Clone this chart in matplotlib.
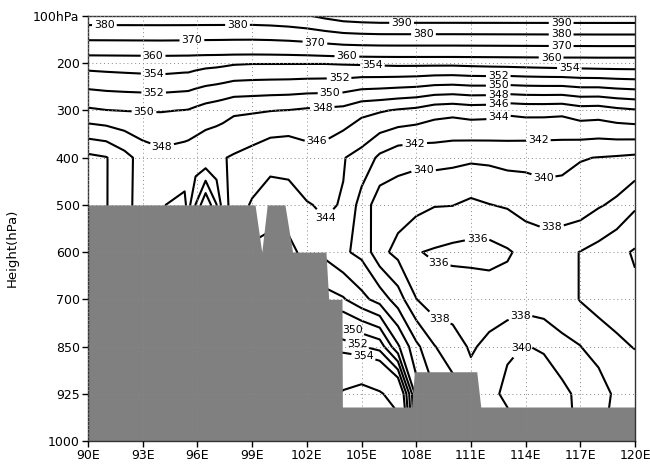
import numpy as np
import matplotlib
matplotlib.use("Agg")
import matplotlib.pyplot as plt

# ---------------- data ----------------
lons = [90, 91, 92, 93, 94, 95.3, 95.5, 95.9, 96.45, 97.05, 97.4, 98, 99, 100, 101, 102, 103,
        104, 105, 106, 107, 108, 109, 110, 111, 112, 113, 114, 115, 116, 117, 118, 119, 120]
levels_hpa = [1000, 925, 850, 700, 600, 500, 400, 300, 200, 100]
level_labels = ['1000', '925', '850', '700', '600', '500', '400', '300', '200', '100hPa']

theta_1000 = [343.0, 343.9, 345.4, 346.8, 347.9, 348.4, 347.27, 350.05, 353.9, 350.05, 347.0, 345.0,
              341.5, 341.0, 341.1, 343.0, 361, 363, 364, 365, 363, 346, 342, 341, 339,
              339.5, 338, 341.9, 341.9, 341, 339.5, 338.5, 337, 337.5]
theta_925 = [343.0, 343.9, 345.4, 346.8, 347.9, 348.4, 347.27, 350.05, 353.9, 350.05, 347.0, 345.0,
             341.5, 341.0, 341.1, 343.0, 358, 360.6, 362, 360.5, 358, 345, 342.2, 341,
             338.7, 339.0, 340.8, 341.5, 341.6, 340.7, 339.3, 339.5, 337.3, 337.5]
theta_850 = [343.0, 343.9, 345.4, 346.8, 347.9, 348.4, 347.27, 350.05, 353.9, 350.05, 347.0, 345.0,
             341.5, 341.0, 341.1, 343.0, 353.5, 353.0, 352.1, 351.2, 346.3, 342.5, 340.1,
             338.7, 337.8, 338.4, 339.5, 340.1, 339.7, 338.4, 338.05, 336.8, 336.4, 335.9]
theta_700 = [343.0, 343.9, 345.4, 346.8, 347.9, 348.4, 347.27, 350.05, 353.9, 350.05, 347.0, 345.0,
             341.5, 341.0, 341.1, 343.0, 346.8, 346.2, 344.6, 343.2, 341.0, 338.05, 336.8,
             337.2, 337.2, 337.1, 336.8, 337.0, 336.8, 337.0, 335.9, 335.5, 335.0, 334.4]
theta_600 = [343.0, 343.9, 345.4, 346.8, 347.9, 348.4, 347.27, 350.05, 353.9, 350.05, 347.0, 345.0,
             341.5, 341.0, 341.1, 343.0, 343.5, 342.3, 341.5, 338.6, 337.4, 336.1, 335.8,
             335.5, 335.4, 335.3, 335.8, 336.5, 336.6, 336.5, 335.95, 335.35, 334.5, 333.8]
theta_500 = [343.0, 343.9, 345.4, 346.8, 347.9, 348.4, 347.27, 350.05, 353.9, 350.05, 347.0, 345.0,
             343.8, 343.25, 343.6, 343.9, 344.2, 343.9, 341.2, 338.9, 338.9, 338.6, 338.1,
             338.05, 337.6, 337.95, 338.2, 338.8, 339.35, 339.2, 339.0, 338.2, 337.6, 336.3]
theta_400 = [343.5, 343.9, 345.3, 346.8, 347.4, 347.0, 346.9, 346.65, 346.3, 346.2, 346.1, 345.8,
             345.25, 344.5, 344.35, 345.1, 345.1, 344.1, 343.3, 341.6, 340.7, 340.5, 340.7,
             340.53, 340.34, 340.41, 340.67, 340.54, 340.5, 340.48, 340.1, 339.95, 339.8, 339.6]
theta_300 = [349.7, 349.95, 350.05, 350.1, 350.1, 349.95, 349.9, 349.6, 349.2, 348.9, 348.7, 348.3,
             348.2, 348.05, 347.95, 347.7, 347.6, 347.4, 346.5, 346.2, 345.8, 345.5, 344.8,
             344.6, 344.9, 344.8, 344.4, 344.6, 344.6, 344.5, 345.1, 345.0, 345.5, 345.8]
theta_200 = [354.8, 354.9, 355.0, 355.1, 355.2, 355.0, 355.0, 354.8, 354.6, 354.5, 354.4, 354.2,
             354.1, 354.1, 354.1, 354.1, 354.1, 354.2, 354.3, 354.4, 354.5, 354.5, 354.5,
             354.5, 354.6, 354.7, 354.8, 354.9, 355.0, 355.1, 355.1, 355.2, 355.2, 355.2]
theta_100 = [386, 386, 386, 386, 386, 386, 386, 386, 386, 386, 386, 386,
             386, 386.5, 387.5, 389.2, 392, 394.5, 395.5, 396, 396, 396, 396,
             396, 396, 396, 396, 396, 396, 396, 396, 396, 396, 396]

contour_levels = [334, 336, 338, 340, 342, 344, 346, 348, 350, 352, 354, 360, 370, 380, 390]

terrain_lon = [90, 99.16, 99.53, 99.83, 100.8, 101.22, 103.05, 103.2, 103.93, 103.95,
               107.75, 107.9, 111.32, 111.54, 120]
terrain_top_hpa = [500, 500, 600, 500, 500, 600, 600, 700, 700, 946,
                   946, 890, 890, 946, 946]

xtick_lons = [90, 93, 96, 99, 102, 105, 108, 111, 114, 117, 120]

# label anchor positions (layout only)
label_pos = [(90.9, 8.8), (98.2, 8.8), (95.7, 8.46), (102.45, 8.46), (93.57, 8.16),
             (93.57, 7.74), (93.6, 7.34), (93.07, 6.93), (94.06, 6.22), (102.84, 7.12),
             (103.27, 7.44), (103.77, 7.72), (105.6, 7.98), (104.2, 8.17), (102.56, 6.30),
             (107.2, 8.84), (108.4, 8.63), (115.95, 8.84), (115.95, 8.63), (115.95, 8.37),
             (115.4, 8.12), (116.4, 7.89), (112.5, 7.76), (112.5, 7.53), (112.5, 7.31),
             (112.5, 7.15), (112.5, 6.89), (107.9, 6.36), (114.7, 6.36), (108.4, 5.73),
             (114.96, 5.56), (115.45, 4.46), (111.34, 4.31), (109.15, 3.66), (109.15, 2.49),
             (113.7, 2.66), (113.7, 1.99), (103.27, 4.57), (104.5, 2.35), (104.75, 2.03),
             (105.1, 1.78)]

# ---------------- plot ----------------
plt.rcParams['font.family'] = ['DejaVu Sans']
fig = plt.figure(figsize=(6.5, 4.65), dpi=100)
ax = fig.add_axes([88 / 650, 24 / 465, 547 / 650, 425 / 465])

level_idx = np.arange(len(levels_hpa))
Z = np.array([theta_1000, theta_925, theta_850, theta_700, theta_600,
              theta_500, theta_400, theta_300, theta_200, theta_100])
X = np.array(lons)

cs = ax.contour(X, level_idx, Z, levels=contour_levels, colors='black',
                linewidths=1.5, zorder=1)
ax.clabel(cs, fmt='%d', fontsize=7.8, inline=True, inline_spacing=2,
          manual=label_pos)
for t in cs.labelTexts:
    t.set_rotation(0)

# terrain
p_sorted = levels_hpa[::-1]
idx_sorted = level_idx[::-1]
terrain_y = np.interp(terrain_top_hpa, p_sorted, idx_sorted)
ax.fill_between(terrain_lon, terrain_y, 0, color='#808080', lw=0, zorder=2)

ax.set_xlim(90, 120)
ax.set_ylim(0, 9)
ax.set_xticks(xtick_lons)
ax.set_xticklabels([f'{v}E' for v in xtick_lons])
ax.set_yticks(level_idx)
ax.set_yticklabels(level_labels)
ax.tick_params(direction='out', length=4, width=1, labelsize=9, pad=2)
ax.set_axisbelow(False)
ax.grid(True, linestyle=(0, (1, 3)), color='#888888', lw=0.7)
for s in ax.spines.values():
    s.set_linewidth(1.0)
    s.set_color('#333333')

fig.text(12 / 650, 1 - 248 / 465, 'Height(hPa)', rotation=90, va='center',
         ha='center', fontsize=9.5)

fig.savefig('out.png', dpi=100)
